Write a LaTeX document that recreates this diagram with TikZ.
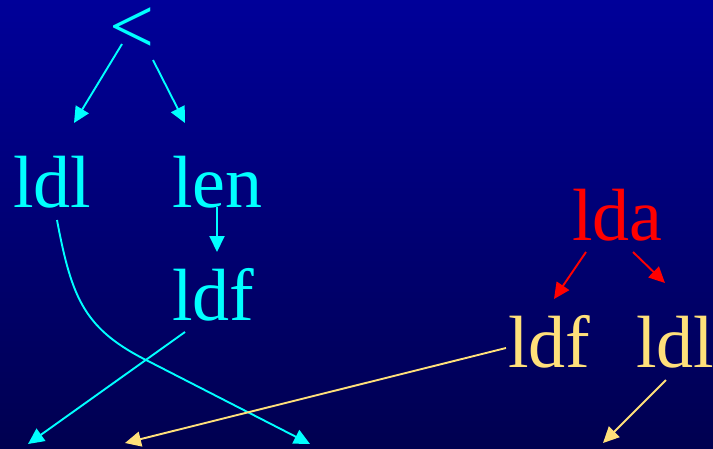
\documentclass[tikz,border=0pt]{standalone}
\usepackage{fontspec}
\setmainfont{Liberation Serif}
\usetikzlibrary{arrows.meta}
\definecolor{bgtop}{RGB}{0,0,153}
\definecolor{bgbot}{RGB}{0,0,80}
\definecolor{cy}{RGB}{0,255,255}
\definecolor{ye}{RGB}{255,224,122}
\definecolor{rd}{RGB}{255,0,0}
\tikzset{
  lbl/.style={inner sep=0pt, anchor=base west, font=\fontsize{74}{86}\selectfont},
  arr/.style={line width=1.9pt, -{Triangle[length=16pt,width=15pt]}},
}
\begin{document}
\begin{tikzpicture}[x=1pt,y=-1pt]
\shade[top color=bgtop, bottom color=bgbot] (0,0) rectangle (713,448);
\useasboundingbox (0,0) rectangle (713,448);
% labels
\node[lbl, text=cy, font=\fontsize{80}{90}\selectfont, text height=44pt, text depth=0pt] (lt) at (109,53) {<};
\node[lbl, text=cy] (ldlA) at (13,207) {ldl};
\node[lbl, text=cy] (len) at (172,207) {len};
\node[lbl, text=cy] (ldfA) at (172,320) {ldf};
\node[lbl, text=rd] (lda) at (572,240) {lda};
\node[lbl, text=ye] (ldfB) at (508,367) {ldf};
\node[lbl, text=ye] (ldlB) at (636,367) {ldl};
% anchor points
\coordinate (ltL) at (122,44);
\coordinate (ltR) at (153,60);
\coordinate (ldlAin) at (74,123);
\coordinate (lenin) at (185,123);
\coordinate (lenout) at (217,207);
\coordinate (ldfAin) at (217,252);
\coordinate (ldlAout) at (57,220);
\coordinate (mid) at (150,362);
\coordinate (ldfAout) at (185,332);
\coordinate (ldaL) at (586,252);
\coordinate (ldaR) at (633,252);
\coordinate (ldfBin) at (554,299);
\coordinate (ldlBin) at (665,283);
\coordinate (ldfBout) at (506,348);
\coordinate (ldlBout) at (666,380);
\coordinate (b1) at (28,444);
\coordinate (b2) at (125,443);
\coordinate (b3) at (310,444);
\coordinate (b4) at (603,443);
% connectors
\draw[arr, cy] (ltL) -- (ldlAin);
\draw[arr, cy] (ltR) -- (lenin);
\draw[arr, cy] (lenout) -- (ldfAin);
\draw[arr, cy] (ldlAout) .. controls (72,300) and (85,330) .. (mid) -- (b3);
\draw[arr, cy] (ldfAout) -- (b1);
\draw[arr, rd] (ldaL) -- (ldfBin);
\draw[arr, rd] (ldaR) -- (ldlBin);
\draw[arr, ye] (ldfBout) -- (b2);
\draw[arr, ye] (ldlBout) -- (b4);
\end{tikzpicture}
\end{document}
